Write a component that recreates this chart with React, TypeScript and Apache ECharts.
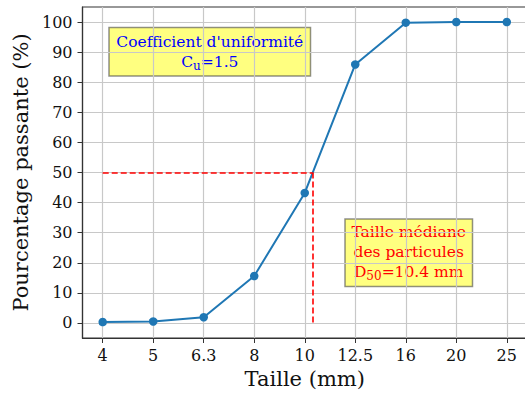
import React, { useEffect, useRef } from 'react';
import * as echarts from 'echarts';

const sizeLabels = ['4', '5', '6.3', '8', '10', '12.5', '16', '20', '25'];
const sizeValues = [4, 5, 6.3, 8, 10, 12.5, 16, 20, 25];
const passing = [0.3, 0.5, 1.9, 15.6, 43.2, 85.9, 99.8, 100, 100];
const yTicks = [0, 10, 20, 30, 40, 50, 60, 70, 80, 90, 100];
const d50 = 10.4;
const cu = 1.5;

const FONT = 'DejaVu Serif';

function sizeToIndex(s: number): number {
  for (let i = 0; i < sizeValues.length - 1; i++) {
    if (s >= sizeValues[i] && s <= sizeValues[i + 1]) {
      return i + (s - sizeValues[i]) / (sizeValues[i + 1] - sizeValues[i]);
    }
  }
  return 0;
}

export default function App() {
  const ref = useRef<HTMLDivElement>(null);
  useEffect(() => {
    document.body.style.margin = '0';
    if (!ref.current) return;
    const chart = echarts.init(ref.current, null, { renderer: 'svg' });
    const idx = sizeToIndex(d50);
    const xTicks = sizeLabels.map((_, i) => i);
    const option: any = {
      animation: false,
      backgroundColor: '#ffffff',
      grid: {
        left: 82.5,
        top: 7,
        right: -2,
        bottom: 56,
        show: true,
        borderColor: '#333333',
        borderWidth: 1.2,
        outerBoundsMode: 'none',
        containLabel: false,
      },
      xAxis: {
        type: 'value',
        min: -0.4,
        max: 8.4,
        name: 'Taille (mm)',
        nameLocation: 'middle',
        nameGap: 30,
        nameTextStyle: { fontFamily: FONT, fontSize: 21, color: '#111' },
        axisLine: { show: true, onZero: false, lineStyle: { color: '#333', width: 1.2 } },
        axisTick: { show: true, length: 5, customValues: xTicks, lineStyle: { color: '#333' } },
        axisLabel: {
          customValues: xTicks,
          margin: 9,
          fontFamily: FONT,
          fontSize: 16,
          color: '#111',
          formatter: (v: number) => sizeLabels[Math.round(v)] ?? '',
        },
        splitLine: { show: true, lineStyle: { color: '#c8c8c8', width: 1.2 } },
      },
      yAxis: {
        type: 'value',
        min: -5,
        max: 105,
        name: 'Pourcentage passante (%)',
        nameLocation: 'middle',
        nameGap: 47,
        nameTextStyle: { fontFamily: FONT, fontSize: 21, color: '#111' },
        axisLine: { show: true, onZero: false, lineStyle: { color: '#333', width: 1.2 } },
        axisTick: { show: true, length: 5, customValues: yTicks, lineStyle: { color: '#333' } },
        axisLabel: {
          customValues: yTicks,
          margin: 10,
          fontFamily: FONT,
          fontSize: 16,
          color: '#111',
        },
        splitLine: { show: true, lineStyle: { color: '#c8c8c8', width: 1.2 } },
      },
      series: [
        {
          type: 'line',
          data: passing.map((v, i) => [i, v]),
          symbol: 'circle',
          symbolSize: 8.5,
          itemStyle: { color: '#1f77b4' },
          lineStyle: { color: '#1f77b4', width: 2 },
          z: 3,
          markLine: {
            silent: true,
            symbol: 'none',
            label: { show: false },
            lineStyle: { color: '#ff0000', width: 1.6, type: [6, 3] },
            data: [
              [{ coord: [0, 50] }, { coord: [idx, 50] }],
              [{ coord: [idx, 50] }, { coord: [idx, 0] }],
            ],
          },
        },
      ],
      graphic: [
        {
          type: 'group',
          z: 10,
          children: [
            {
              type: 'rect',
              shape: { x: 109, y: 27.5, width: 201.5, height: 48.5 },
              style: { fill: 'rgba(255,255,100,0.82)', stroke: 'rgba(70,70,70,0.6)', lineWidth: 1.5 },
            },
            {
              type: 'text',
              x: 209.8,
              y: 51.7,
              style: {
                text: "{b|Coefficient d'uniformité}\n{b|C}{s|u}{b|=" + cu + '}',
                align: 'center',
                verticalAlign: 'middle',
                fill: '#0000ff',
                rich: {
                  b: { fontFamily: FONT, fontSize: 15.5, lineHeight: 20, fill: '#0000ff', color: '#0000ff' },
                  s: { fontFamily: FONT, fontSize: 12, lineHeight: 13, verticalAlign: 'bottom', fill: '#0000ff', color: '#0000ff' },
                },
              },
            },
            {
              type: 'rect',
              shape: { x: 345, y: 219, width: 127.5, height: 67.5 },
              style: { fill: 'rgba(255,255,100,0.82)', stroke: 'rgba(70,70,70,0.6)', lineWidth: 1.5 },
            },
            {
              type: 'text',
              x: 408.7,
              y: 252,
              style: {
                text: '{r|Taille médiane}\n{r|des particules}\n{r|D}{s|50}{r|=' + d50 + ' mm}',
                align: 'center',
                verticalAlign: 'middle',
                fill: '#ff0000',
                rich: {
                  r: { fontFamily: FONT, fontSize: 15.5, lineHeight: 20, fill: '#ff0000', color: '#ff0000' },
                  s: { fontFamily: FONT, fontSize: 12, lineHeight: 13, verticalAlign: 'bottom', fill: '#ff0000', color: '#ff0000' },
                },
              },
            },
          ],
        },
      ],
    };
    chart.setOption(option);
    return () => chart.dispose();
  }, []);
  return <div ref={ref} style={{ width: 525, height: 394 }} />;
}
